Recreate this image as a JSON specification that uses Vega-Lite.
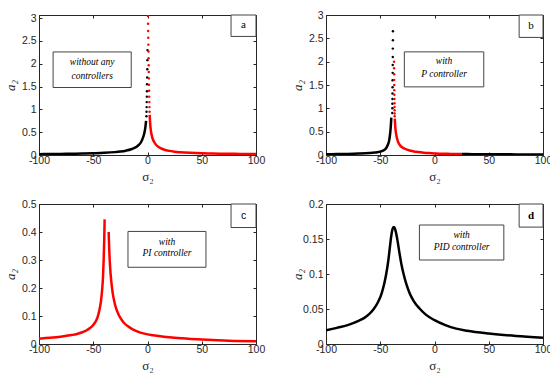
{
  "$schema": "https://vega.github.io/schema/vega-lite/v6.json",
  "padding": {"left": 3, "top": 9, "right": 8, "bottom": 0},
  "columns": 2,
  "spacing": {"row": 14, "column": 24},
  "datasets": {
    "lines": [
      {"panel":"a","seg":"a1","stability":"stable","x":-100,"y":0.019},
      {"panel":"a","seg":"a1","stability":"stable","x":-90,"y":0.021},
      {"panel":"a","seg":"a1","stability":"stable","x":-80,"y":0.024},
      {"panel":"a","seg":"a1","stability":"stable","x":-70,"y":0.027},
      {"panel":"a","seg":"a1","stability":"stable","x":-60,"y":0.031},
      {"panel":"a","seg":"a1","stability":"stable","x":-50,"y":0.038},
      {"panel":"a","seg":"a1","stability":"stable","x":-40,"y":0.047},
      {"panel":"a","seg":"a1","stability":"stable","x":-30,"y":0.063},
      {"panel":"a","seg":"a1","stability":"stable","x":-25,"y":0.076},
      {"panel":"a","seg":"a1","stability":"stable","x":-20,"y":0.095},
      {"panel":"a","seg":"a1","stability":"stable","x":-15,"y":0.125},
      {"panel":"a","seg":"a1","stability":"stable","x":-12,"y":0.155},
      {"panel":"a","seg":"a1","stability":"stable","x":-10,"y":0.18},
      {"panel":"a","seg":"a1","stability":"stable","x":-8,"y":0.22},
      {"panel":"a","seg":"a1","stability":"stable","x":-6,"y":0.28},
      {"panel":"a","seg":"a1","stability":"stable","x":-5,"y":0.33},
      {"panel":"a","seg":"a1","stability":"stable","x":-4,"y":0.39},
      {"panel":"a","seg":"a1","stability":"stable","x":-3,"y":0.47},
      {"panel":"a","seg":"a1","stability":"stable","x":-2,"y":0.6},
      {"panel":"a","seg":"a1","stability":"stable","x":-1.3,"y":0.75},
      {"panel":"a","seg":"a2","stability":"unstable","x":2.0,"y":0.88},
      {"panel":"a","seg":"a2","stability":"unstable","x":2.3,"y":0.75},
      {"panel":"a","seg":"a2","stability":"unstable","x":2.7,"y":0.62},
      {"panel":"a","seg":"a2","stability":"unstable","x":3.2,"y":0.52},
      {"panel":"a","seg":"a2","stability":"unstable","x":4,"y":0.42},
      {"panel":"a","seg":"a2","stability":"unstable","x":5,"y":0.34},
      {"panel":"a","seg":"a2","stability":"unstable","x":6,"y":0.29},
      {"panel":"a","seg":"a2","stability":"unstable","x":8,"y":0.22},
      {"panel":"a","seg":"a2","stability":"unstable","x":10,"y":0.18},
      {"panel":"a","seg":"a2","stability":"unstable","x":12,"y":0.15},
      {"panel":"a","seg":"a2","stability":"unstable","x":15,"y":0.12},
      {"panel":"a","seg":"a2","stability":"unstable","x":20,"y":0.09},
      {"panel":"a","seg":"a2","stability":"unstable","x":25,"y":0.073},
      {"panel":"a","seg":"a2","stability":"unstable","x":30,"y":0.062},
      {"panel":"a","seg":"a2","stability":"unstable","x":40,"y":0.048},
      {"panel":"a","seg":"a2","stability":"unstable","x":50,"y":0.039},
      {"panel":"a","seg":"a2","stability":"unstable","x":60,"y":0.033},
      {"panel":"a","seg":"a2","stability":"unstable","x":70,"y":0.028},
      {"panel":"a","seg":"a2","stability":"unstable","x":80,"y":0.025},
      {"panel":"a","seg":"a2","stability":"unstable","x":90,"y":0.022},
      {"panel":"a","seg":"a2","stability":"unstable","x":100,"y":0.02},

      {"panel":"b","seg":"b1","stability":"stable","x":-100,"y":0.016},
      {"panel":"b","seg":"b1","stability":"stable","x":-90,"y":0.019},
      {"panel":"b","seg":"b1","stability":"stable","x":-80,"y":0.023},
      {"panel":"b","seg":"b1","stability":"stable","x":-70,"y":0.03},
      {"panel":"b","seg":"b1","stability":"stable","x":-60,"y":0.042},
      {"panel":"b","seg":"b1","stability":"stable","x":-55,"y":0.053},
      {"panel":"b","seg":"b1","stability":"stable","x":-50,"y":0.072},
      {"panel":"b","seg":"b1","stability":"stable","x":-47,"y":0.098},
      {"panel":"b","seg":"b1","stability":"stable","x":-45,"y":0.135},
      {"panel":"b","seg":"b1","stability":"stable","x":-44,"y":0.17},
      {"panel":"b","seg":"b1","stability":"stable","x":-43,"y":0.22},
      {"panel":"b","seg":"b1","stability":"stable","x":-42,"y":0.29},
      {"panel":"b","seg":"b1","stability":"stable","x":-41.3,"y":0.38},
      {"panel":"b","seg":"b1","stability":"stable","x":-40.7,"y":0.5},
      {"panel":"b","seg":"b1","stability":"stable","x":-40.2,"y":0.64},
      {"panel":"b","seg":"b1","stability":"stable","x":-39.8,"y":0.8},
      {"panel":"b","seg":"b2","stability":"unstable","x":-36.6,"y":0.78},
      {"panel":"b","seg":"b2","stability":"unstable","x":-36.2,"y":0.62},
      {"panel":"b","seg":"b2","stability":"unstable","x":-35.7,"y":0.5},
      {"panel":"b","seg":"b2","stability":"unstable","x":-35,"y":0.4},
      {"panel":"b","seg":"b2","stability":"unstable","x":-34,"y":0.31},
      {"panel":"b","seg":"b2","stability":"unstable","x":-33,"y":0.25},
      {"panel":"b","seg":"b2","stability":"unstable","x":-31.5,"y":0.2},
      {"panel":"b","seg":"b2","stability":"unstable","x":-30,"y":0.165},
      {"panel":"b","seg":"b2","stability":"unstable","x":-28,"y":0.14},
      {"panel":"b","seg":"b2","stability":"unstable","x":-26,"y":0.12},
      {"panel":"b","seg":"b2","stability":"unstable","x":-23,"y":0.097},
      {"panel":"b","seg":"b2","stability":"unstable","x":-20,"y":0.082},
      {"panel":"b","seg":"b2","stability":"unstable","x":-15,"y":0.063},
      {"panel":"b","seg":"b2","stability":"unstable","x":-10,"y":0.05},
      {"panel":"b","seg":"b2","stability":"unstable","x":-5,"y":0.041},
      {"panel":"b","seg":"b2","stability":"unstable","x":0,"y":0.034},
      {"panel":"b","seg":"b2","stability":"unstable","x":5,"y":0.029},
      {"panel":"b","seg":"b2","stability":"unstable","x":10,"y":0.026},
      {"panel":"b","seg":"b2","stability":"unstable","x":15,"y":0.024},
      {"panel":"b","seg":"b2","stability":"unstable","x":20,"y":0.022},
      {"panel":"b","seg":"b2","stability":"unstable","x":25,"y":0.02},
      {"panel":"b","seg":"b3","stability":"stable","x":25,"y":0.02},
      {"panel":"b","seg":"b3","stability":"stable","x":35,"y":0.018},
      {"panel":"b","seg":"b3","stability":"stable","x":45,"y":0.016},
      {"panel":"b","seg":"b3","stability":"stable","x":55,"y":0.015},
      {"panel":"b","seg":"b3","stability":"stable","x":65,"y":0.014},
      {"panel":"b","seg":"b3","stability":"stable","x":75,"y":0.013},
      {"panel":"b","seg":"b3","stability":"stable","x":85,"y":0.012},
      {"panel":"b","seg":"b3","stability":"stable","x":100,"y":0.011},

      {"panel":"c","seg":"c1","stability":"unstable","x":-100,"y":0.019},
      {"panel":"c","seg":"c1","stability":"unstable","x":-90,"y":0.022},
      {"panel":"c","seg":"c1","stability":"unstable","x":-80,"y":0.026},
      {"panel":"c","seg":"c1","stability":"unstable","x":-70,"y":0.032},
      {"panel":"c","seg":"c1","stability":"unstable","x":-65,"y":0.036},
      {"panel":"c","seg":"c1","stability":"unstable","x":-60,"y":0.042},
      {"panel":"c","seg":"c1","stability":"unstable","x":-56,"y":0.049},
      {"panel":"c","seg":"c1","stability":"unstable","x":-53,"y":0.057},
      {"panel":"c","seg":"c1","stability":"unstable","x":-50,"y":0.068},
      {"panel":"c","seg":"c1","stability":"unstable","x":-48,"y":0.079},
      {"panel":"c","seg":"c1","stability":"unstable","x":-46,"y":0.096},
      {"panel":"c","seg":"c1","stability":"unstable","x":-44.5,"y":0.118},
      {"panel":"c","seg":"c1","stability":"unstable","x":-43,"y":0.15},
      {"panel":"c","seg":"c1","stability":"unstable","x":-42,"y":0.185},
      {"panel":"c","seg":"c1","stability":"unstable","x":-41,"y":0.24},
      {"panel":"c","seg":"c1","stability":"unstable","x":-40.4,"y":0.3},
      {"panel":"c","seg":"c1","stability":"unstable","x":-39.9,"y":0.37},
      {"panel":"c","seg":"c1","stability":"unstable","x":-39.5,"y":0.445},
      {"panel":"c","seg":"c2","stability":"unstable","x":-35.8,"y":0.4},
      {"panel":"c","seg":"c2","stability":"unstable","x":-35.3,"y":0.34},
      {"panel":"c","seg":"c2","stability":"unstable","x":-34.7,"y":0.29},
      {"panel":"c","seg":"c2","stability":"unstable","x":-34,"y":0.25},
      {"panel":"c","seg":"c2","stability":"unstable","x":-33,"y":0.21},
      {"panel":"c","seg":"c2","stability":"unstable","x":-32,"y":0.18},
      {"panel":"c","seg":"c2","stability":"unstable","x":-30.5,"y":0.15},
      {"panel":"c","seg":"c2","stability":"unstable","x":-29,"y":0.128},
      {"panel":"c","seg":"c2","stability":"unstable","x":-27,"y":0.108},
      {"panel":"c","seg":"c2","stability":"unstable","x":-25,"y":0.093},
      {"panel":"c","seg":"c2","stability":"unstable","x":-22,"y":0.077},
      {"panel":"c","seg":"c2","stability":"unstable","x":-18,"y":0.063},
      {"panel":"c","seg":"c2","stability":"unstable","x":-14,"y":0.053},
      {"panel":"c","seg":"c2","stability":"unstable","x":-9,"y":0.044},
      {"panel":"c","seg":"c2","stability":"unstable","x":-3,"y":0.037},
      {"panel":"c","seg":"c2","stability":"unstable","x":5,"y":0.031},
      {"panel":"c","seg":"c2","stability":"unstable","x":15,"y":0.026},
      {"panel":"c","seg":"c2","stability":"unstable","x":25,"y":0.022},
      {"panel":"c","seg":"c2","stability":"unstable","x":40,"y":0.018},
      {"panel":"c","seg":"c2","stability":"unstable","x":50,"y":0.016},
      {"panel":"c","seg":"c2","stability":"unstable","x":65,"y":0.013},
      {"panel":"c","seg":"c2","stability":"unstable","x":80,"y":0.011},
      {"panel":"c","seg":"c2","stability":"unstable","x":100,"y":0.0095},

      {"panel":"d","seg":"d1","stability":"stable","x":-100,"y":0.0195},
      {"panel":"d","seg":"d1","stability":"stable","x":-90,"y":0.023},
      {"panel":"d","seg":"d1","stability":"stable","x":-80,"y":0.027},
      {"panel":"d","seg":"d1","stability":"stable","x":-70,"y":0.033},
      {"panel":"d","seg":"d1","stability":"stable","x":-65,"y":0.037},
      {"panel":"d","seg":"d1","stability":"stable","x":-60,"y":0.043},
      {"panel":"d","seg":"d1","stability":"stable","x":-56,"y":0.05},
      {"panel":"d","seg":"d1","stability":"stable","x":-52,"y":0.06},
      {"panel":"d","seg":"d1","stability":"stable","x":-49,"y":0.071},
      {"panel":"d","seg":"d1","stability":"stable","x":-46.5,"y":0.085},
      {"panel":"d","seg":"d1","stability":"stable","x":-44.5,"y":0.1},
      {"panel":"d","seg":"d1","stability":"stable","x":-42.5,"y":0.12},
      {"panel":"d","seg":"d1","stability":"stable","x":-41,"y":0.14},
      {"panel":"d","seg":"d1","stability":"stable","x":-39.8,"y":0.155},
      {"panel":"d","seg":"d1","stability":"stable","x":-38.7,"y":0.164},
      {"panel":"d","seg":"d1","stability":"stable","x":-37.6,"y":0.167},
      {"panel":"d","seg":"d1","stability":"stable","x":-36.5,"y":0.165},
      {"panel":"d","seg":"d1","stability":"stable","x":-35.3,"y":0.158},
      {"panel":"d","seg":"d1","stability":"stable","x":-34,"y":0.147},
      {"panel":"d","seg":"d1","stability":"stable","x":-32.5,"y":0.132},
      {"panel":"d","seg":"d1","stability":"stable","x":-30.5,"y":0.114},
      {"panel":"d","seg":"d1","stability":"stable","x":-28.5,"y":0.1},
      {"panel":"d","seg":"d1","stability":"stable","x":-26,"y":0.086},
      {"panel":"d","seg":"d1","stability":"stable","x":-23,"y":0.073},
      {"panel":"d","seg":"d1","stability":"stable","x":-19,"y":0.061},
      {"panel":"d","seg":"d1","stability":"stable","x":-14,"y":0.051},
      {"panel":"d","seg":"d1","stability":"stable","x":-8,"y":0.042},
      {"panel":"d","seg":"d1","stability":"stable","x":0,"y":0.034},
      {"panel":"d","seg":"d1","stability":"stable","x":10,"y":0.027},
      {"panel":"d","seg":"d1","stability":"stable","x":20,"y":0.022},
      {"panel":"d","seg":"d1","stability":"stable","x":30,"y":0.019},
      {"panel":"d","seg":"d1","stability":"stable","x":50,"y":0.015},
      {"panel":"d","seg":"d1","stability":"stable","x":75,"y":0.0115},
      {"panel":"d","seg":"d1","stability":"stable","x":100,"y":0.009}
    ],
    "dots": [
      {"panel":"a","stability":"stable","x":-1.0,"y":0.85},
      {"panel":"a","stability":"stable","x":-0.9,"y":0.95},
      {"panel":"a","stability":"stable","x":-0.8,"y":1.05},
      {"panel":"a","stability":"stable","x":-0.7,"y":1.16},
      {"panel":"a","stability":"stable","x":-0.6,"y":1.28},
      {"panel":"a","stability":"stable","x":-0.5,"y":1.4},
      {"panel":"a","stability":"stable","x":-0.4,"y":1.55},
      {"panel":"a","stability":"stable","x":-0.3,"y":1.7},
      {"panel":"a","stability":"stable","x":-0.2,"y":1.88},
      {"panel":"a","stability":"stable","x":-0.1,"y":2.08},
      {"panel":"a","stability":"stable","x":0,"y":2.3},
      {"panel":"a","stability":"unstable","x":0.4,"y":3.05},
      {"panel":"a","stability":"unstable","x":0.5,"y":2.88},
      {"panel":"a","stability":"unstable","x":0.6,"y":2.72},
      {"panel":"a","stability":"unstable","x":0.7,"y":2.57},
      {"panel":"a","stability":"unstable","x":0.8,"y":2.42},
      {"panel":"a","stability":"unstable","x":0.9,"y":2.27},
      {"panel":"a","stability":"unstable","x":1.0,"y":2.12},
      {"panel":"a","stability":"unstable","x":1.1,"y":1.97},
      {"panel":"a","stability":"unstable","x":1.2,"y":1.82},
      {"panel":"a","stability":"unstable","x":1.3,"y":1.68},
      {"panel":"a","stability":"unstable","x":1.4,"y":1.54},
      {"panel":"a","stability":"unstable","x":1.5,"y":1.41},
      {"panel":"a","stability":"unstable","x":1.6,"y":1.28},
      {"panel":"a","stability":"unstable","x":1.7,"y":1.16},
      {"panel":"a","stability":"unstable","x":1.8,"y":1.05},
      {"panel":"a","stability":"unstable","x":1.9,"y":0.95},
      {"panel":"b","stability":"stable","x":-38.9,"y":0.9},
      {"panel":"b","stability":"stable","x":-38.85,"y":1.0},
      {"panel":"b","stability":"stable","x":-38.8,"y":1.1},
      {"panel":"b","stability":"stable","x":-38.75,"y":1.2},
      {"panel":"b","stability":"stable","x":-38.7,"y":1.32},
      {"panel":"b","stability":"stable","x":-38.65,"y":1.45},
      {"panel":"b","stability":"stable","x":-38.6,"y":1.6},
      {"panel":"b","stability":"stable","x":-38.55,"y":1.76},
      {"panel":"b","stability":"stable","x":-38.5,"y":1.93},
      {"panel":"b","stability":"stable","x":-38.45,"y":2.1},
      {"panel":"b","stability":"stable","x":-38.4,"y":2.28},
      {"panel":"b","stability":"stable","x":-38.35,"y":2.46},
      {"panel":"b","stability":"stable","x":-38.3,"y":2.65},
      {"panel":"b","stability":"unstable","x":-37.3,"y":2.0},
      {"panel":"b","stability":"unstable","x":-37.25,"y":1.86},
      {"panel":"b","stability":"unstable","x":-37.2,"y":1.73},
      {"panel":"b","stability":"unstable","x":-37.15,"y":1.61},
      {"panel":"b","stability":"unstable","x":-37.1,"y":1.5},
      {"panel":"b","stability":"unstable","x":-37.05,"y":1.39},
      {"panel":"b","stability":"unstable","x":-37.0,"y":1.29},
      {"panel":"b","stability":"unstable","x":-36.95,"y":1.2},
      {"panel":"b","stability":"unstable","x":-36.9,"y":1.11},
      {"panel":"b","stability":"unstable","x":-36.85,"y":1.03},
      {"panel":"b","stability":"unstable","x":-36.8,"y":0.96},
      {"panel":"b","stability":"unstable","x":-36.75,"y":0.89},
      {"panel":"b","stability":"unstable","x":-36.7,"y":0.83}
    ],
    "boxes": [
      {"panel":"a","x1":-87,"x2":-15,"y1":1.48,"y2":2.26},
      {"panel":"a","x1":77,"x2":100,"y1":2.6,"y2":3.07},
      {"panel":"b","x1":-27.8,"x2":45.4,"y1":1.46,"y2":2.21},
      {"panel":"b","x1":78,"x2":100,"y1":2.52,"y2":3},
      {"panel":"c","x1":-18,"x2":53.9,"y1":0.274,"y2":0.402},
      {"panel":"c","x1":77,"x2":100,"y1":0.416,"y2":0.5},
      {"panel":"d","x1":-13.9,"x2":63.9,"y1":0.12,"y2":0.17},
      {"panel":"d","x1":78,"x2":100,"y1":0.167,"y2":0.2}
    ],
    "labels": [
      {"panel":"a","role":"note","x":-51,"y":2.03,"text":"without any"},
      {"panel":"a","role":"note","x":-51,"y":1.74,"text":"controllers"},
      {"panel":"a","role":"corner","x":88.5,"y":2.84,"text":"a"},
      {"panel":"b","role":"note","x":8.8,"y":2.02,"text":"with"},
      {"panel":"b","role":"note","x":8.8,"y":1.73,"text":"P controller"},
      {"panel":"b","role":"corner","x":89,"y":2.76,"text":"b"},
      {"panel":"c","role":"note","x":18,"y":0.363,"text":"with"},
      {"panel":"c","role":"note","x":18,"y":0.325,"text":"PI controller"},
      {"panel":"c","role":"corner","x":88.5,"y":0.458,"text":"c"},
      {"panel":"d","role":"note","x":25,"y":0.156,"text":"with"},
      {"panel":"d","role":"note","x":25,"y":0.139,"text":"PID controller"},
      {"panel":"d","role":"corner","x":89,"y":0.1835,"text":"d"}
    ]
  },
  "concat": [
    {
      "width": 217, "height": 140,
      "resolve": {"axis": {"x": "independent", "y": "independent"}},
      "layer": [
        {"data": {"name": "lines"}, "transform": [{"filter": "datum.panel == 'a'"}],
         "mark": {"type": "line", "strokeWidth": 2.5, "interpolate": "monotone", "clip": true},
         "encoding": {
           "x": {"field": "x", "type": "quantitative", "scale": {"domain": [-100, 100], "nice": false}, "axis": {"values": [-100, -50, 0, 50, 100], "title": "σ₂"}},
           "y": {"field": "y", "type": "quantitative", "scale": {"domain": [0, 3.07], "nice": false}, "axis": {"values": [0, 0.5, 1, 1.5, 2, 2.5, 3], "title": "a₂"}},
           "color": {"field": "stability", "type": "nominal", "scale": {"domain": ["stable", "unstable"], "range": ["#000000", "#ff0000"]}, "legend": null},
           "detail": {"field": "seg"}}},
        {"data": {"name": "dots"}, "transform": [{"filter": "datum.panel == 'a'"}],
         "mark": {"type": "point", "filled": true, "size": 6, "opacity": 1, "clip": true},
         "encoding": {"x": {"field": "x", "type": "quantitative", "axis": null}, "y": {"field": "y", "type": "quantitative", "axis": null},
           "color": {"field": "stability", "type": "nominal", "legend": null}}},
        {"data": {"name": "boxes"}, "transform": [{"filter": "datum.panel == 'a'"}],
         "mark": {"type": "rect", "fill": "#ffffff", "stroke": "#444444", "strokeWidth": 1},
         "encoding": {"x": {"field": "x1", "type": "quantitative", "axis": null}, "x2": {"field": "x2"}, "y": {"field": "y1", "type": "quantitative", "axis": null}, "y2": {"field": "y2"}}},
        {"data": {"name": "labels"}, "transform": [{"filter": "datum.panel == 'a' && datum.role == 'note'"}],
         "mark": {"type": "text", "font": "Liberation Serif", "fontStyle": "italic", "fontSize": 9.5, "color": "#000000"},
         "encoding": {"x": {"field": "x", "type": "quantitative", "axis": null}, "y": {"field": "y", "type": "quantitative", "axis": null}, "text": {"field": "text"}}},
        {"data": {"name": "labels"}, "transform": [{"filter": "datum.panel == 'a' && datum.role == 'corner'"}],
         "mark": {"type": "text", "font": "Liberation Serif", "fontSize": 11, "color": "#000000"},
         "encoding": {"x": {"field": "x", "type": "quantitative", "axis": null}, "y": {"field": "y", "type": "quantitative", "axis": null}, "text": {"field": "text"}}},
        {"data": {"name": "lines"}, "transform": [{"filter": "datum.panel == 'a'"}],
         "mark": {"type": "point", "opacity": 0},
         "encoding": {"x": {"field": "x", "type": "quantitative", "axis": {"orient": "top", "values": [-100, -50, 0, 50, 100], "labels": false, "title": null, "minExtent": 0, "maxExtent": 0}},
                      "y": {"field": "y", "type": "quantitative", "axis": {"orient": "right", "values": [0, 0.5, 1, 1.5, 2, 2.5, 3], "labels": false, "title": null, "minExtent": 0, "maxExtent": 0}}}}
      ]
    },
    {
      "width": 217, "height": 140,
      "resolve": {"axis": {"x": "independent", "y": "independent"}},
      "layer": [
        {"data": {"name": "lines"}, "transform": [{"filter": "datum.panel == 'b'"}],
         "mark": {"type": "line", "strokeWidth": 2.5, "interpolate": "monotone", "clip": true},
         "encoding": {
           "x": {"field": "x", "type": "quantitative", "scale": {"domain": [-100, 100], "nice": false}, "axis": {"values": [-100, -50, 0, 50, 100], "title": "σ₂"}},
           "y": {"field": "y", "type": "quantitative", "scale": {"domain": [0, 3], "nice": false}, "axis": {"values": [0, 0.5, 1, 1.5, 2, 2.5, 3], "title": "a₂"}},
           "color": {"field": "stability", "type": "nominal", "scale": {"domain": ["stable", "unstable"], "range": ["#000000", "#ff0000"]}, "legend": null},
           "detail": {"field": "seg"}}},
        {"data": {"name": "dots"}, "transform": [{"filter": "datum.panel == 'b'"}],
         "mark": {"type": "point", "filled": true, "size": 6, "opacity": 1, "clip": true},
         "encoding": {"x": {"field": "x", "type": "quantitative", "axis": null}, "y": {"field": "y", "type": "quantitative", "axis": null},
           "color": {"field": "stability", "type": "nominal", "legend": null}}},
        {"data": {"name": "boxes"}, "transform": [{"filter": "datum.panel == 'b'"}],
         "mark": {"type": "rect", "fill": "#ffffff", "stroke": "#444444", "strokeWidth": 1},
         "encoding": {"x": {"field": "x1", "type": "quantitative", "axis": null}, "x2": {"field": "x2"}, "y": {"field": "y1", "type": "quantitative", "axis": null}, "y2": {"field": "y2"}}},
        {"data": {"name": "labels"}, "transform": [{"filter": "datum.panel == 'b' && datum.role == 'note'"}],
         "mark": {"type": "text", "font": "Liberation Serif", "fontStyle": "italic", "fontSize": 9.5, "color": "#000000"},
         "encoding": {"x": {"field": "x", "type": "quantitative", "axis": null}, "y": {"field": "y", "type": "quantitative", "axis": null}, "text": {"field": "text"}}},
        {"data": {"name": "labels"}, "transform": [{"filter": "datum.panel == 'b' && datum.role == 'corner'"}],
         "mark": {"type": "text", "font": "Liberation Serif", "fontSize": 11, "color": "#000000"},
         "encoding": {"x": {"field": "x", "type": "quantitative", "axis": null}, "y": {"field": "y", "type": "quantitative", "axis": null}, "text": {"field": "text"}}},
        {"data": {"name": "lines"}, "transform": [{"filter": "datum.panel == 'b'"}],
         "mark": {"type": "point", "opacity": 0},
         "encoding": {"x": {"field": "x", "type": "quantitative", "axis": {"orient": "top", "values": [-100, -50, 0, 50, 100], "labels": false, "title": null, "minExtent": 0, "maxExtent": 0}},
                      "y": {"field": "y", "type": "quantitative", "axis": {"orient": "right", "values": [0, 0.5, 1, 1.5, 2, 2.5, 3], "labels": false, "title": null, "minExtent": 0, "maxExtent": 0}}}}
      ]
    },
    {
      "width": 217, "height": 140,
      "resolve": {"axis": {"x": "independent", "y": "independent"}},
      "layer": [
        {"data": {"name": "lines"}, "transform": [{"filter": "datum.panel == 'c'"}],
         "mark": {"type": "line", "strokeWidth": 2.5, "interpolate": "monotone", "clip": true},
         "encoding": {
           "x": {"field": "x", "type": "quantitative", "scale": {"domain": [-100, 100], "nice": false}, "axis": {"values": [-100, -50, 0, 50, 100], "title": "σ₂"}},
           "y": {"field": "y", "type": "quantitative", "scale": {"domain": [0, 0.5], "nice": false}, "axis": {"values": [0, 0.1, 0.2, 0.3, 0.4, 0.5], "title": "a₂"}},
           "color": {"field": "stability", "type": "nominal", "scale": {"domain": ["stable", "unstable"], "range": ["#000000", "#ff0000"]}, "legend": null},
           "detail": {"field": "seg"}}},
        {"data": {"name": "boxes"}, "transform": [{"filter": "datum.panel == 'c'"}],
         "mark": {"type": "rect", "fill": "#ffffff", "stroke": "#444444", "strokeWidth": 1},
         "encoding": {"x": {"field": "x1", "type": "quantitative", "axis": null}, "x2": {"field": "x2"}, "y": {"field": "y1", "type": "quantitative", "axis": null}, "y2": {"field": "y2"}}},
        {"data": {"name": "labels"}, "transform": [{"filter": "datum.panel == 'c' && datum.role == 'note'"}],
         "mark": {"type": "text", "font": "Liberation Serif", "fontStyle": "italic", "fontSize": 9.5, "color": "#000000"},
         "encoding": {"x": {"field": "x", "type": "quantitative", "axis": null}, "y": {"field": "y", "type": "quantitative", "axis": null}, "text": {"field": "text"}}},
        {"data": {"name": "labels"}, "transform": [{"filter": "datum.panel == 'c' && datum.role == 'corner'"}],
         "mark": {"type": "text", "font": "Liberation Sans", "fontSize": 10.5, "color": "#000000"},
         "encoding": {"x": {"field": "x", "type": "quantitative", "axis": null}, "y": {"field": "y", "type": "quantitative", "axis": null}, "text": {"field": "text"}}},
        {"data": {"name": "lines"}, "transform": [{"filter": "datum.panel == 'c'"}],
         "mark": {"type": "point", "opacity": 0},
         "encoding": {"x": {"field": "x", "type": "quantitative", "axis": {"orient": "top", "values": [-100, -50, 0, 50, 100], "labels": false, "title": null, "minExtent": 0, "maxExtent": 0}},
                      "y": {"field": "y", "type": "quantitative", "axis": {"orient": "right", "values": [0, 0.1, 0.2, 0.3, 0.4, 0.5], "labels": false, "title": null, "minExtent": 0, "maxExtent": 0}}}}
      ]
    },
    {
      "width": 217, "height": 140,
      "resolve": {"axis": {"x": "independent", "y": "independent"}},
      "layer": [
        {"data": {"name": "lines"}, "transform": [{"filter": "datum.panel == 'd'"}],
         "mark": {"type": "line", "strokeWidth": 2.5, "interpolate": "monotone", "clip": true},
         "encoding": {
           "x": {"field": "x", "type": "quantitative", "scale": {"domain": [-100, 100], "nice": false}, "axis": {"values": [-100, -50, 0, 50, 100], "title": "σ₂"}},
           "y": {"field": "y", "type": "quantitative", "scale": {"domain": [0, 0.2], "nice": false}, "axis": {"values": [0, 0.05, 0.1, 0.15, 0.2], "title": "a₂"}},
           "color": {"field": "stability", "type": "nominal", "scale": {"domain": ["stable", "unstable"], "range": ["#000000", "#ff0000"]}, "legend": null},
           "detail": {"field": "seg"}}},
        {"data": {"name": "boxes"}, "transform": [{"filter": "datum.panel == 'd'"}],
         "mark": {"type": "rect", "fill": "#ffffff", "stroke": "#444444", "strokeWidth": 1},
         "encoding": {"x": {"field": "x1", "type": "quantitative", "axis": null}, "x2": {"field": "x2"}, "y": {"field": "y1", "type": "quantitative", "axis": null}, "y2": {"field": "y2"}}},
        {"data": {"name": "labels"}, "transform": [{"filter": "datum.panel == 'd' && datum.role == 'note'"}],
         "mark": {"type": "text", "font": "Liberation Serif", "fontStyle": "italic", "fontSize": 9.5, "color": "#000000"},
         "encoding": {"x": {"field": "x", "type": "quantitative", "axis": null}, "y": {"field": "y", "type": "quantitative", "axis": null}, "text": {"field": "text"}}},
        {"data": {"name": "labels"}, "transform": [{"filter": "datum.panel == 'd' && datum.role == 'corner'"}],
         "mark": {"type": "text", "font": "Liberation Serif", "fontSize": 11, "fontWeight": "bold", "color": "#000000"},
         "encoding": {"x": {"field": "x", "type": "quantitative", "axis": null}, "y": {"field": "y", "type": "quantitative", "axis": null}, "text": {"field": "text"}}},
        {"data": {"name": "lines"}, "transform": [{"filter": "datum.panel == 'd'"}],
         "mark": {"type": "point", "opacity": 0},
         "encoding": {"x": {"field": "x", "type": "quantitative", "axis": {"orient": "top", "values": [-100, -50, 0, 50, 100], "labels": false, "title": null, "minExtent": 0, "maxExtent": 0}},
                      "y": {"field": "y", "type": "quantitative", "axis": {"orient": "right", "values": [0, 0.05, 0.1, 0.15, 0.2], "labels": false, "title": null, "minExtent": 0, "maxExtent": 0}}}}
      ]
    }
  ],
  "config": {
    "view": {"stroke": "#262626", "strokeWidth": 1},
    "axis": {"grid": false, "domainColor": "#262626", "domainWidth": 1, "tickColor": "#262626", "tickSize": -3, "tickWidth": 1,
             "labelFont": "Liberation Sans", "labelFontSize": 10.5, "labelColor": "#262626", "labelPadding": 6,
             "labelFlush": false, "labelOverlap": false, "labelExpr": "'' + datum.value",
             "titleFont": "Liberation Serif", "titleFontSize": 13, "titleFontWeight": "normal", "titleColor": "#262626"},
    "axisY": {"titlePadding": 2, "minExtent": 20, "maxExtent": 20, "titleFontStyle": "italic"},
    "axisX": {"titlePadding": 5, "labelPadding": 3}
  }
}
